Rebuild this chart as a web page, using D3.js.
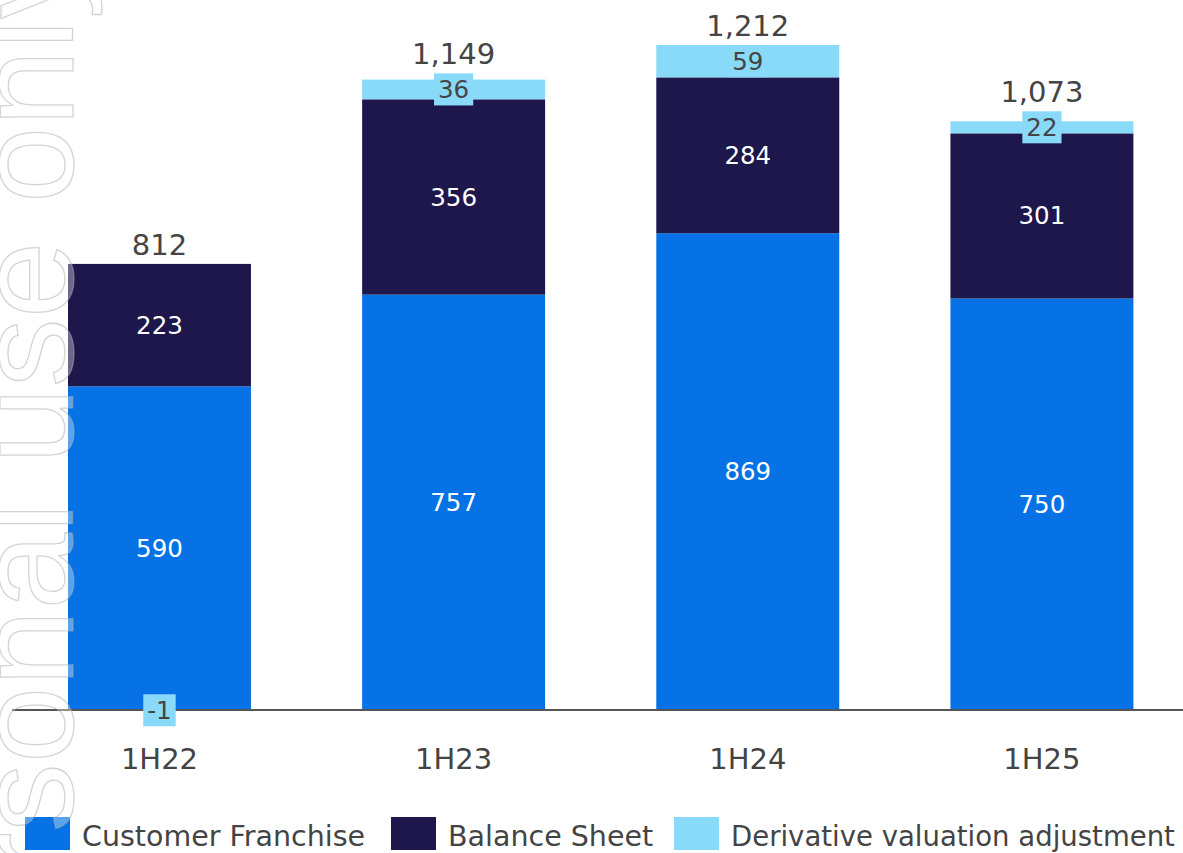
<!DOCTYPE html>
<html>
<head>
<meta charset="utf-8">
<title>Stacked bars</title>
<script src="https://cdn.jsdelivr.net/npm/d3@7"></script>
<style>
  body { margin: 0; background: #fff; font-family: "DejaVu Sans", Arial, sans-serif; }
  .seg-label { fill: #fff; font-size: 24.5px; }
  .dva-label { fill: #444; font-size: 24.5px; }
  .total { fill: #444; font-size: 29px; }
  .cat { fill: #444; font-size: 29px; }
  .legend text { fill: #444; font-size: 28.5px; }
</style>
</head>
<body>
<div id="chart"></div>
<script>
var categories = ["1H22", "1H23", "1H24", "1H25"];
var customer = [590, 757, 869, 750];
var balance = [223, 356, 284, 301];
var dva = [-1, 36, 59, 22];
var totals = [812, 1149, 1212, 1073];
var seriesNames = ["Customer Franchise", "Balance Sheet", "Derivative valuation adjustment"];
var colors = ["#0672e5", "#1e174c", "#89d9f8"];

var W = 1183, H = 853;
var svg = d3.select("#chart").append("svg").attr("width", W).attr("height", H);

var rows = categories.map(function (c, i) {
  return { cat: c, cf: customer[i], bs: balance[i], dva: dva[i], total: totals[i] };
});
var keys = ["cf", "bs", "dva"];
var stack = d3.stack().keys(keys).offset(d3.stackOffsetDiverging)(rows);

var x = d3.scaleBand().domain(categories).range([12.4, 1189]).paddingInner(0.378).paddingOuter(0.189);
var y = d3.scaleLinear().domain([0, 1212]).range([710, 45]);

// bars
stack.forEach(function (layer, li) {
  svg.append("g").selectAll("rect").data(layer).enter().append("rect")
    .attr("x", function (d) { return x(d.data.cat); })
    .attr("width", x.bandwidth())
    .attr("y", function (d) { return y(Math.max(d[0], d[1])); })
    .attr("height", function (d) { return Math.abs(y(d[0]) - y(d[1])); })
    .attr("fill", colors[li]);
});

// axis line
svg.append("line").attr("x1", 12).attr("x2", W).attr("y1", y(0)).attr("y2", y(0))
  .attr("stroke", "#555").attr("stroke-width", 2);

// labels inside the two big segments
stack.slice(0, 2).forEach(function (layer) {
  svg.append("g").selectAll("text").data(layer).enter().append("text")
    .attr("class", "seg-label")
    .attr("x", function (d) { return x(d.data.cat) + x.bandwidth() / 2; })
    .attr("y", function (d) { return (y(d[0]) + y(d[1])) / 2; })
    .attr("dy", "0.35em")
    .attr("text-anchor", "middle")
    .text(function (d) { return d[1] - d[0]; });
});

// dva labels with boxes
var boxTops = [];
var dvaG = svg.append("g");
stack[2].forEach(function (d, i) {
  var cx = x(d.data.cat) + x.bandwidth() / 2;
  var cy = (y(d[0]) + y(d[1])) / 2;
  var g = dvaG.append("g");
  var rect = g.append("rect").attr("fill", colors[2]);
  var t = g.append("text").attr("class", "dva-label")
    .attr("x", cx).attr("y", cy).attr("dy", "0.35em")
    .attr("text-anchor", "middle").text(dva[i]);
  var bb = t.node().getBBox();
  var bw = bb.width + 8, bh = 32;
  rect.attr("x", cx - bw / 2).attr("y", cy - bh / 2).attr("width", bw).attr("height", bh);
  boxTops.push(Math.min(cy - bh / 2, y(Math.max(d[0], d[1]))));
});

// totals
svg.append("g").selectAll("text").data(rows).enter().append("text")
  .attr("class", "total")
  .attr("x", function (d) { return x(d.cat) + x.bandwidth() / 2; })
  .attr("y", function (d, i) { return Math.min(y(d.total), boxTops[i]) - 9; })
  .attr("text-anchor", "middle")
  .text(function (d) { return d3.format(",")(d.total); });

// category labels
svg.append("g").selectAll("text").data(categories).enter().append("text")
  .attr("class", "cat")
  .attr("x", function (d) { return x(d) + x.bandwidth() / 2; })
  .attr("y", 769)
  .attr("text-anchor", "middle")
  .text(function (d) { return d; });

// legend
var legendX = [25, 391, 674];
var legend = svg.append("g").attr("class", "legend");
seriesNames.forEach(function (n, i) {
  legend.append("rect").attr("x", legendX[i]).attr("y", 817).attr("width", 45).attr("height", 33)
    .attr("fill", colors[i]);
  var t = legend.append("text").attr("x", legendX[i] + 57).attr("y", 846).text(n);
  // shrink the last item so it fits before the right edge
  var room = W - 8 - (legendX[i] + 57);
  var len = t.node().getComputedTextLength();
  if (len > room) {
    t.style("font-size", (28.5 * room / len).toFixed(2) + "px");
  }
});

// watermark
svg.append("text")
  .attr("transform", "translate(73,-50) rotate(-90)")
  .attr("text-anchor", "end")
  .style("font-family", "Liberation Sans, Arial, sans-serif")
  .style("font-size", "138px")
  .attr("fill", "rgba(255,255,255,0.35)")
  .attr("stroke", "rgba(170,170,170,0.5)")
  .attr("stroke-width", 1.3)
  .text("For personal use only");
</script>
</body>
</html>
